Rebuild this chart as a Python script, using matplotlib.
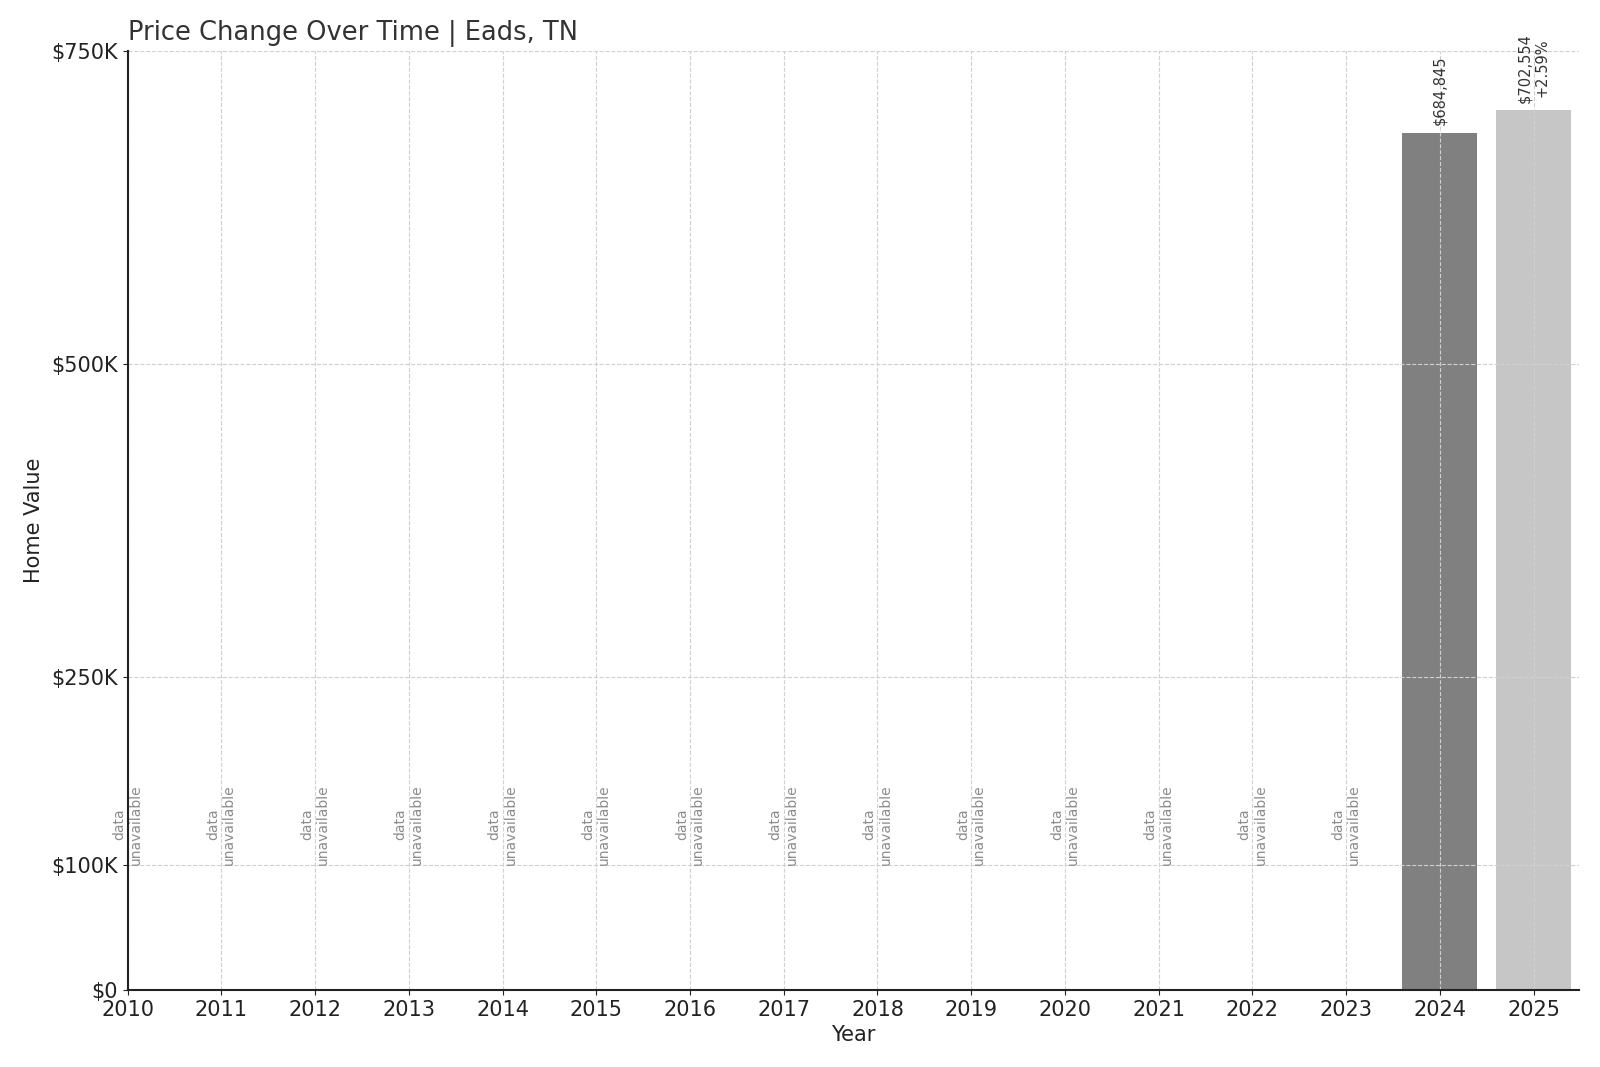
import matplotlib
matplotlib.use("Agg")
import matplotlib.pyplot as plt
from matplotlib.ticker import FuncFormatter

years = list(range(2010, 2026))
values = [None] * 14 + [684845, 702554]
bar_colors = ["#808080", "#c6c6c6"]
yticks = [0, 100000, 250000, 500000, 750000]

fig = plt.figure(figsize=(16, 10.67), dpi=100)
ax = fig.add_axes([0.0797, 0.0722, 0.907, 0.880])

known = [(y, v) for y, v in zip(years, values) if v is not None]
ax.bar([k[0] for k in known], [k[1] for k in known], width=0.8,
       color=bar_colors, zorder=1)

prev = None
for y, v in zip(years, values):
    if v is None:
        ax.text(y, 100000, "data\nunavailable", rotation=90, ha="center",
                va="bottom", fontsize=10, color="#8c8c8c", zorder=3)
        continue
    label = f"${v:,.0f}"
    if prev is not None:
        label += f"\n{(v - prev) / prev * 100:+.2f}%"
    ax.text(y, v + 6000, label, rotation=90, ha="center", va="bottom",
            fontsize=10.5, color="#333333", zorder=3)
    prev = v

ax.set_xlim(2010, 2025.48)
ax.set_ylim(0, 750000)
ax.set_xticks(years)
ax.set_yticks(yticks)
ax.yaxis.set_major_formatter(FuncFormatter(
    lambda x, p: "$0" if x == 0 else f"${x / 1000:.0f}K"))
ax.tick_params(labelsize=15, colors="#222222")
ax.grid(True, linestyle="--", color="#d0d0d0", linewidth=0.8, zorder=2)
ax.set_axisbelow(False)
for s in ["top", "right"]:
    ax.spines[s].set_visible(False)
for s in ["left", "bottom"]:
    ax.spines[s].set_linewidth(1.5)
    ax.spines[s].set_color("#222222")
    ax.spines[s].set_zorder(5)

ax.set_xlabel("Year", fontsize=15, color="#222222", labelpad=4)
ax.set_ylabel("Home Value", fontsize=15, color="#222222", labelpad=5)
ax.set_title("Price Change Over Time | Eads, TN", loc="left", fontsize=18.5,
             color="#333333", pad=8)

fig.savefig("out.png", dpi=100)
